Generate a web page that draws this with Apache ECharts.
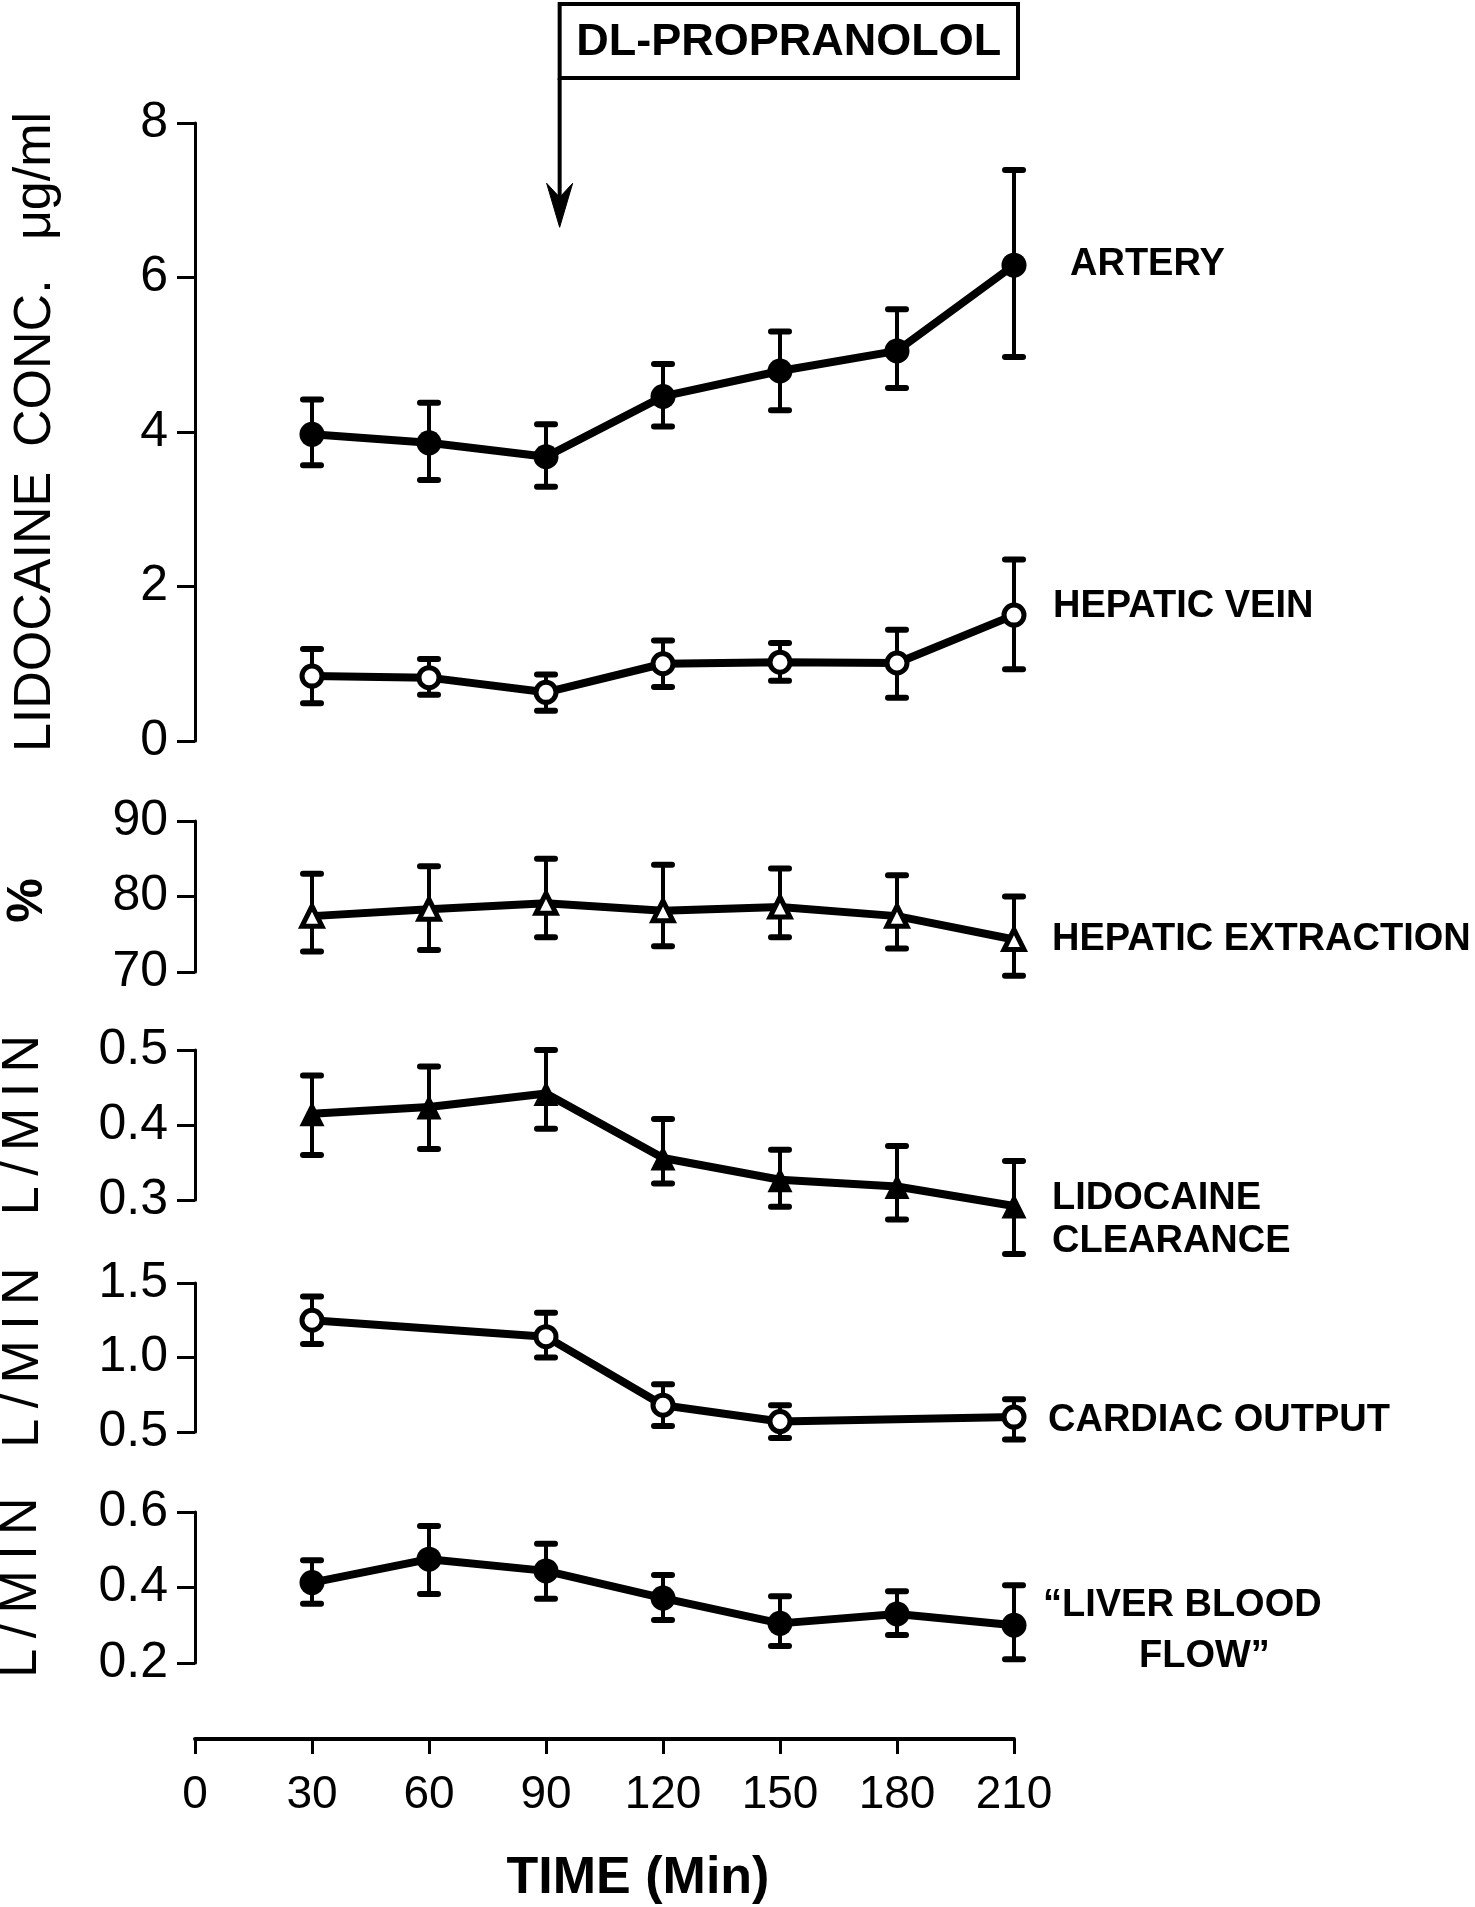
<!DOCTYPE html>
<html>
<head>
<meta charset="utf-8">
<script src="https://cdn.jsdelivr.net/npm/echarts@6/dist/echarts.min.js"></script>
<style>
html,body{margin:0;padding:0;background:#fff;}
#chart{width:1475px;height:1907px;}
</style>
</head>
<body>
<div id="chart"></div>
<script>
// ---- data ----
const times = [30, 60, 90, 120, 150, 180, 210];
const coTimes = [30, 90, 120, 150, 210];
const xTicks = [0, 30, 60, 90, 120, 150, 180, 210];

const arteryMean = [3.97, 3.86, 3.68, 4.46, 4.79, 5.05, 6.16];
const arteryHi   = [4.42, 4.38, 4.10, 4.88, 5.30, 5.59, 7.39];
const arteryLo   = [3.57, 3.38, 3.29, 4.07, 4.28, 4.57, 4.97];

const veinMean = [0.84, 0.82, 0.63, 1.00, 1.02, 1.01, 1.63];
const veinHi   = [1.19, 1.06, 0.86, 1.30, 1.27, 1.44, 2.35];
const veinLo   = [0.49, 0.60, 0.39, 0.70, 0.78, 0.56, 0.93];

const extrMean = [77.4, 78.3, 79.1, 78.1, 78.6, 77.4, 74.3];
const extrHi   = [83.0, 84.0, 85.0, 84.2, 83.7, 82.8, 80.0];
const extrLo   = [72.7, 72.9, 74.6, 73.4, 74.6, 73.1, 69.5];

const clearMean = [0.415, 0.424, 0.442, 0.356, 0.327, 0.318, 0.292];
const clearHi   = [0.466, 0.478, 0.500, 0.408, 0.367, 0.372, 0.352];
const clearLo   = [0.360, 0.368, 0.395, 0.322, 0.291, 0.274, 0.228];

const coMean = [1.25, 1.14, 0.68, 0.57, 0.60];
const coHi   = [1.41, 1.30, 0.82, 0.68, 0.72];
const coLo   = [1.09, 1.00, 0.54, 0.46, 0.45];

const lbfMean = [0.413, 0.475, 0.444, 0.372, 0.305, 0.330, 0.300];
const lbfHi   = [0.472, 0.563, 0.516, 0.433, 0.377, 0.390, 0.406];
const lbfLo   = [0.357, 0.383, 0.370, 0.314, 0.245, 0.274, 0.210];

const drugLabel = 'DL-PROPRANOLOL';
const drugTime = 93.5;
const arrowTipValue = 6.65;

const TS = '\u2009'; // thin space for letter spacing
const panelTitles = ['LIDOCAINE' + TS + ' CONC.' + TS + '  μg/ml', '%',
  ['L', '/', 'M', 'I', 'N'].join(TS), ['L', '/', 'M', 'I', 'N'].join(TS), ['L', '/', 'M', 'I', 'N'].join(TS)];
const yRanges = [[0, 8, 2], [70, 90, 10], [0.3, 0.5, 0.1], [0.5, 1.5, 0.5], [0.2, 0.6, 0.2]];
const xTitle = 'TIME (Min)';

// ---- chart ----
const FONT = "'Liberation Sans', Arial, sans-serif";
const chart = echarts.init(document.getElementById('chart'), null, {renderer: 'canvas'});

const gridBoxes = [
  {top: 123, height: 618},
  {top: 821, height: 151},
  {top: 1050, height: 150},
  {top: 1283, height: 149},
  {top: 1512, height: 151}
];
const grids = gridBoxes.map(g => ({left: 195, width: 819, top: g.top, height: g.height}));

const yDecimals = [0, 0, 1, 1, 1];
const yAxes = yRanges.map((r, i) => ({
  type: 'value', gridIndex: i, min: r[0], max: r[1], interval: r[2],
  axisLine: {show: true, lineStyle: {color: '#000', width: 3}},
  axisTick: {show: true, length: 18, lineStyle: {color: '#000', width: 3}},
  splitLine: {show: false},
  axisLabel: {color: '#000', fontSize: 50, fontFamily: FONT, margin: 27,
    formatter: v => v.toFixed(yDecimals[i])}
}));

const xAxes = grids.map((g, i) => ({
  type: 'value', gridIndex: i, min: 0, max: 210, interval: 30,
  show: i === 4,
  offset: i === 4 ? 76 : 0,
  position: 'bottom',
  axisLine: {show: true, lineStyle: {color: '#000', width: 4}},
  axisTick: {show: true, length: 15, lineStyle: {color: '#000', width: 3}},
  splitLine: {show: false},
  axisLabel: {color: '#000', fontSize: 46, fontFamily: FONT, margin: 33}
}));

function pairs(xs, ys) { return xs.map((x, i) => [x, ys[i]]); }
function triples(xs, lo, hi) { return xs.map((x, i) => [x, lo[i], hi[i]]); }

function errSeries(idx, xs, lo, hi) {
  return {
    type: 'custom', xAxisIndex: idx, yAxisIndex: idx, z: 2, clip: false,
    data: triples(xs, lo, hi),
    encode: {x: 0, y: [1, 2]},
    renderItem: function (params, api) {
      const pl = api.coord([api.value(0), api.value(1)]);
      const ph = api.coord([api.value(0), api.value(2)]);
      const w = 9;
      return {
        type: 'group',
        children: [
          {type: 'line', shape: {x1: pl[0], y1: pl[1], x2: ph[0], y2: ph[1]}, style: {stroke: '#000', lineWidth: 4}},
          {type: 'line', shape: {x1: ph[0] - w, y1: ph[1], x2: ph[0] + w, y2: ph[1]}, style: {stroke: '#000', lineWidth: 6, lineCap: 'round'}},
          {type: 'line', shape: {x1: pl[0] - w, y1: pl[1], x2: pl[0] + w, y2: pl[1]}, style: {stroke: '#000', lineWidth: 6, lineCap: 'round'}}
        ]
      };
    }
  };
}

function lineSeries(name, idx, xs, ys, symbol, filled) {
  return {
    name: name, type: 'line', xAxisIndex: idx, yAxisIndex: idx, z: 3, clip: false,
    data: pairs(xs, ys),
    symbol: symbol,
    symbolSize: filled ? 25 : 20,
    showAllSymbol: true,
    lineStyle: {color: '#000', width: 8},
    itemStyle: {color: filled ? '#000' : '#fff', borderColor: '#000', borderWidth: filled ? 0 : 5},
    emphasis: {disabled: true},
    animation: false
  };
}

const series = [
  errSeries(0, times, arteryLo, arteryHi),
  errSeries(0, times, veinLo, veinHi),
  errSeries(1, times, extrLo, extrHi),
  errSeries(2, times, clearLo, clearHi),
  errSeries(3, coTimes, coLo, coHi),
  errSeries(4, times, lbfLo, lbfHi),
  lineSeries('ARTERY', 0, times, arteryMean, 'circle', true),
  lineSeries('HEPATIC VEIN', 0, times, veinMean, 'circle', false),
  lineSeries('HEPATIC EXTRACTION', 1, times, extrMean, 'triangle', false),
  lineSeries('LIDOCAINE CLEARANCE', 2, times, clearMean, 'triangle', true),
  lineSeries('CARDIAC OUTPUT', 3, coTimes, coMean, 'circle', false),
  lineSeries('LIVER BLOOD FLOW', 4, times, lbfMean, 'circle', true)
];

chart.setOption({
  animation: false,
  backgroundColor: '#fff',
  grid: grids,
  xAxis: xAxes,
  yAxis: yAxes,
  series: series
});

// ---- annotations placed through the axes ----
const px = (gi, x, y) => chart.convertToPixel({gridIndex: gi}, [x, y]);
const labelFont = 'bold 38px ' + FONT;
const g = [];

function seriesLabel(lines, gi, x, y, dx, dys, dxs) {
  const p = px(gi, x, y);
  lines.forEach((t, k) => {
    g.push({type: 'text', x: p[0] + dx + (dxs ? dxs[k] : 0), y: p[1] + dys[k],
      style: {text: t, font: labelFont, fill: '#000', textAlign: 'left', textVerticalAlign: 'middle'}});
  });
}
seriesLabel(['ARTERY'], 0, 210, arteryMean[6], 56, [-1]);
seriesLabel(['HEPATIC VEIN'], 0, 210, veinMean[6], 39, [-9]);
seriesLabel(['HEPATIC EXTRACTION'], 1, 210, extrMean[6], 38, [0]);
seriesLabel(['LIDOCAINE', 'CLEARANCE'], 2, 210, clearMean[6], 38, [-7, 36]);
seriesLabel(['CARDIAC OUTPUT'], 3, 210, coMean[4], 34, [3]);
seriesLabel(['“LIVER BLOOD', 'FLOW”'], 4, 210, lbfMean[6], 29, [-20, 31], [0, 96]);

// panel titles (rotated)
const titleX = [36, 28, 24, 24, 22];
const titleFonts = ['52px ', 'bold 50px ', '52px ', '52px ', '52px '];
panelTitles.forEach((t, i) => {
  const r = yRanges[i];
  const top = px(i, 0, r[1])[1], bot = px(i, 0, r[0])[1];
  const cy = (top + bot) / 2 + (i === 1 ? 4 : 0);
  g.push({type: 'text', x: titleX[i], y: cy, rotation: Math.PI / 2,
    style: {text: t, font: titleFonts[i] + FONT, fill: '#000',
      textAlign: 'center', textVerticalAlign: 'middle'}});
});

// x-axis title
g.push({type: 'text', x: 638, y: 1879,
  style: {text: xTitle, font: 'bold 52px ' + FONT, fill: '#000', textAlign: 'center', textVerticalAlign: 'middle'}});

// DL-propranolol box and arrow
const tip = px(0, drugTime, arrowTipValue);
const boxLeft = tip[0], boxRight = 1018, boxTop = 4, boxBottom = 78;
g.push({type: 'rect', shape: {x: boxLeft, y: boxTop, width: boxRight - boxLeft, height: boxBottom - boxTop},
  style: {fill: '#fff', stroke: '#000', lineWidth: 4}});
g.push({type: 'text', x: (boxLeft + boxRight) / 2, y: (boxTop + boxBottom) / 2 + 2,
  style: {text: drugLabel, font: 'bold 45px ' + FONT, fill: '#000', textAlign: 'center', textVerticalAlign: 'middle'}});
g.push({type: 'line', shape: {x1: tip[0], y1: boxBottom, x2: tip[0], y2: tip[1] - 10},
  style: {stroke: '#000', lineWidth: 4}});
g.push({type: 'polygon', shape: {points: [[tip[0] - 13, tip[1] - 44], [tip[0], tip[1] - 30], [tip[0] + 13, tip[1] - 44], [tip[0], tip[1]]]},
  style: {fill: '#000', stroke: '#000', lineWidth: 1}});

chart.setOption({graphic: g});
</script>
</body>
</html>
